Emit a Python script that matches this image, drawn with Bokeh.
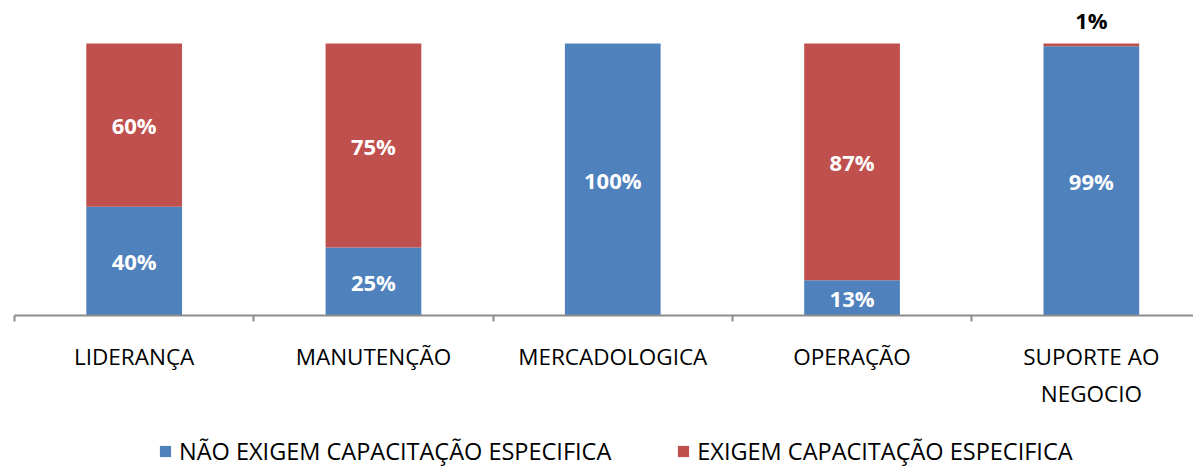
from bokeh.plotting import figure
from bokeh.layouts import column
from bokeh.models import Range1d, FixedTicker, Legend, LegendItem
from bokeh.core.properties import value
from bokeh.embed import file_html
from bokeh.resources import INLINE

categories = ["LIDERANÇA", "MANUTENÇÃO", "MERCADOLOGICA", "OPERAÇÃO", "SUPORTE AO\nNEGOCIO"]
nao_exigem = [40, 25, 100, 13, 99]
exigem = [60, 75, 0, 87, 1]
series_names = ["NÃO EXIGEM CAPACITAÇÃO ESPECIFICA", "EXIGEM CAPACITAÇÃO ESPECIFICA"]
colors = ["#4F81BD", "#C0504D"]

FONT = "Open Sans"
n = len(categories)
xs = list(range(n))

bottoms1 = [0] * n
tops1 = nao_exigem
bottoms2 = nao_exigem
tops2 = [a + b for a, b in zip(nao_exigem, exigem)]

H1 = 433
p = figure(width=1193, height=H1, output_backend="svg", toolbar_location=None,
           x_range=Range1d(-0.5, -0.5 + 1179 / 239.3), y_range=Range1d(0, 100 * 308 / 272),
           y_axis_location=None,
           min_border_left=14, min_border_right=0, min_border_top=7, min_border_bottom=H1 - 315)
p.outline_line_color = None
p.grid.visible = False

# stacked bars
r1 = p.vbar(x=xs, bottom=bottoms1, top=tops1, width=0.4, fill_color=colors[0], line_color=None)
r2 = p.vbar(x=xs, bottom=bottoms2, top=tops2, width=0.4, fill_color=colors[1], line_color=None)

# data labels
in_x, in_y, in_t = [], [], []
out_x, out_y, out_t = [], [], []
for vals, bots in ((nao_exigem, bottoms1), (exigem, bottoms2)):
    for i, (v, b) in enumerate(zip(vals, bots)):
        if v <= 0:
            continue
        if v >= 5:
            in_x.append(i); in_y.append(b + v / 2); in_t.append(f"{v}%")
        else:
            out_x.append(i); out_y.append(b + v); out_t.append(f"{v}%")

p.text(x=in_x, y=in_y, text=in_t, text_align="center", text_baseline="middle",
       text_font=value(FONT), text_font_style="bold", text_font_size="22px", text_color="white")
p.text(x=out_x, y=out_y, text=out_t, text_align="center", text_baseline="alphabetic", y_offset=-24,
       text_font=value(FONT), text_font_style="bold", text_font_size="22px", text_color="black")

# axis
ax = p.xaxis[0]
ax.ticker = FixedTicker(ticks=xs, minor_ticks=[i - 0.5 for i in range(n)])
ax.major_label_overrides = {i: c for i, c in enumerate(categories)}
ax.major_tick_out = 0
ax.major_tick_in = 0
ax.minor_tick_out = 6
ax.minor_tick_in = 0
ax.minor_tick_line_color = "#8c8c8c"
ax.minor_tick_line_width = 2
ax.axis_line_color = "#8c8c8c"
ax.axis_line_width = 2
ax.major_label_standoff = 19
ax.major_label_text_font = FONT
ax.major_label_text_font_size = "22.5px"
ax.major_label_text_color = "black"

# legend in a strip below the chart (hidden copies of the bar renderers supply the swatches)
H2 = 467 - H1
q = figure(width=1193, height=H2, output_backend="svg", toolbar_location=None,
           x_range=Range1d(-0.5, 4.5), y_range=Range1d(0, 100),
           x_axis_location=None, y_axis_location=None,
           min_border_left=0, min_border_right=0, min_border_top=0, min_border_bottom=0)
q.outline_line_color = None
q.grid.visible = False
l1 = q.vbar(x=xs, bottom=bottoms1, top=tops1, width=0.4, fill_color=colors[0], line_color=None, visible=False)
l2 = q.vbar(x=xs, bottom=bottoms2, top=tops2, width=0.4, fill_color=colors[1], line_color=None, visible=False)
legend = Legend(items=[LegendItem(label=series_names[0], renderers=[l1]),
                       LegendItem(label=series_names[1], renderers=[l2])],
                orientation="horizontal", location=(144, 0),
                glyph_width=14, glyph_height=14, label_standoff=7, spacing=65,
                padding=0, margin=0, border_line_color=None, background_fill_alpha=0,
                label_text_font=FONT, label_text_font_size="23.5px", label_text_color="black")
q.add_layout(legend, "center")

layout = column(p, q, spacing=0)
open("out.html", "w").write(file_html(layout, INLINE))
